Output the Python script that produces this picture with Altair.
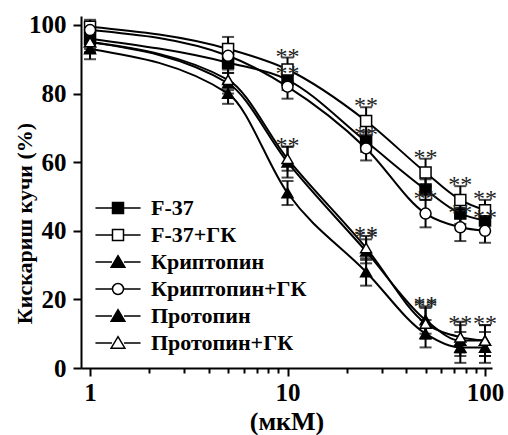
import altair as alt
import pandas as pd

conc = [1, 5, 10, 25, 50, 75, 100]
series_names = ["F-37", "F-37+ГК", "Криптопин", "Криптопин+ГК", "Протопин", "Протопин+ГК"]

f37 = [96, 89, 84, 66, 52, 45, 43]
f37_gk = [99.5, 93, 87, 72, 57, 49, 46]
krip = [95, 83, 60, 34, 14, 8, 8]
krip_gk = [98.5, 91, 82, 64, 45, 41, 40]
prot = [93, 80, 51, 28, 10, 6, 6]
prot_gk = [95, 84, 61, 35, 13, 9, 8]

f37_err = [3, 3, 3, 3, 3, 3, 3]
f37_gk_err = [2, 3.5, 3.5, 4, 4, 4, 3]
krip_err = [3, 3, 4.5, 3.5, 4, 4.5, 4.5]
krip_gk_err = [2, 3, 3.5, 3.5, 4, 4, 3.5]
prot_err = [3, 3, 3.5, 4, 4, 4.5, 4.5]
prot_gk_err = [3, 3, 3.5, 3.5, 4.5, 4.5, 4.5]

# significance marks (**) per series at these concentrations
stars = {
    "F-37+ГК": [10, 25, 50, 75, 100],
    "Криптопин+ГК": [10, 25, 50, 75, 100],
    "Криптопин": [10, 25, 50, 75, 100],
    "Протопин+ГК": [25, 50],
}

values = [f37, f37_gk, krip, krip_gk, prot, prot_gk]
errors = [f37_err, f37_gk_err, krip_err, krip_gk_err, prot_err, prot_gk_err]

rows = []
for name, vals, errs in zip(series_names, values, errors):
    for c, v, e in zip(conc, vals, errs):
        rows.append({"series": name, "label": name, "conc": c, "val": v,
                     "lo": v - e, "hi": v + e,
                     "star": "**" if c in stars.get(name, []) else ""})
df = pd.DataFrame(rows)

shapes_plot = ["square", "square", "triangle-up", "circle", "triangle-up", "triangle-up"]
fills = ["black", "white", "black", "white", "black", "white"]

sq = "M-4.1,0H-1M1,0H4.1M-1,-1H1V1H-1Z"
tri = "M-4.1,0H-1.1M1.1,0H4.1M0,-1.15L1.25,0.95L-1.25,0.95Z"
cir = "M-4.1,0H-1M1,0H4.1M-1,0A1,1 0 1,1 1,0A1,1 0 1,1 -1,0Z"
shapes_legend = [sq, sq, tri, cir, tri, tri]

x_ticks = [1, 2, 3, 4, 5, 6, 7, 8, 9, 10, 20, 30, 40, 50, 60, 70, 80, 90, 100]
y_ticks = list(range(0, 101, 10))

FONT = "Liberation Serif"

x_enc = alt.X(
    "conc:Q",
    scale=alt.Scale(type="log", domain=[0.9, 108.5], nice=False),
    axis=alt.Axis(
        values=x_ticks, format="~g",
        labelExpr="(datum.value==1||datum.value==10||datum.value==100) ? datum.label : ''",
        tickSize={"condition": {"test": "datum.value==1||datum.value==10||datum.value==100", "value": 8}, "value": 5},
        labelFlush=False, labelOverlap=False, labelPadding=4,
        title="(мкМ)", titlePadding=3, titleFontSize=26,
    ),
)
y_scale = alt.Scale(domain=[0, 102.6], nice=False)
y_enc = alt.Y(
    "val:Q", scale=y_scale,
    axis=alt.Axis(
        values=y_ticks,
        labelExpr="datum.value % 20 == 0 ? datum.label : ''",
        tickSize={"condition": {"test": "datum.value % 20 == 0", "value": 8}, "value": 5},
        labelPadding=7, labelOverlap=False,
        title="Кискариш кучи (%)", titleX=-57, titleY=207, titleAngle=-90,
        titleAlign="center", titleBaseline="middle",
    ),
)

base = alt.Chart(df)

lines = base.mark_line(interpolate="monotone", color="black", strokeWidth=2).encode(
    x=x_enc, y=y_enc, detail="series:N"
)

bars = base.mark_rule(color="black", strokeWidth=2).encode(
    x="conc:Q", y="lo:Q", y2="hi:Q"
)
cap_hi = base.mark_tick(color="black", orient="horizontal", size=12, thickness=2).encode(
    x="conc:Q", y="hi:Q"
)
cap_lo = base.mark_tick(color="black", orient="horizontal", size=12, thickness=2).encode(
    x="conc:Q", y="lo:Q"
)

points = base.mark_point(filled=True, stroke="black", strokeWidth=1.5, size=121, opacity=1).encode(
    x="conc:Q", y="val:Q",
    shape=alt.Shape("series:N", scale=alt.Scale(domain=series_names, range=shapes_plot), legend=None),
    fill=alt.Fill("series:N", scale=alt.Scale(domain=series_names, range=fills), legend=None),
)

star_text = base.mark_text(font=FONT, fontSize=24, color="#222222", baseline="alphabetic", dy=6).encode(
    x="conc:Q", y="hi:Q", text="star:N"
)

legend_layer = base.transform_filter("false").mark_point(
    filled=True, strokeWidth=1.5, size=121, opacity=1
).encode(
    x="conc:Q", y="val:Q",
    shape=alt.Shape("label:N", scale=alt.Scale(domain=series_names, range=shapes_legend),
                    legend=alt.Legend(title=None, orient="none", legendX=26, legendY=181,
                                      labelFont=FONT, labelFontSize=22, labelFontWeight="bold",
                                      labelColor="black", symbolSize=121, symbolStrokeWidth=1.5,
                                      symbolOpacity=1,
                                      rowPadding=5, labelOffset=22, padding=0)),
    fill=alt.Fill("label:N", scale=alt.Scale(domain=series_names, range=fills)),
    stroke=alt.Stroke("label:N", scale=alt.Scale(domain=series_names, range=["black"] * 6)),
)

chart = alt.layer(lines, bars, cap_hi, cap_lo, points, star_text, legend_layer).resolve_scale(
    shape="independent", fill="independent", stroke="independent"
).properties(
    width=411, height=352,
    autosize=alt.AutoSizeParams(type="none"),
    padding={"left": 81, "top": 16, "right": 16, "bottom": 67},
).configure_view(stroke=None).configure_axis(
    grid=False, domainColor="black", domainWidth=2, tickColor="black", tickWidth=2,
    labelFont=FONT, labelFontSize=25, labelFontWeight="bold", labelColor="black",
    titleFont=FONT, titleFontSize=22, titleFontWeight="bold", titleColor="black",
)

chart.save("out.html", embed_options={"renderer": "svg", "actions": False})
